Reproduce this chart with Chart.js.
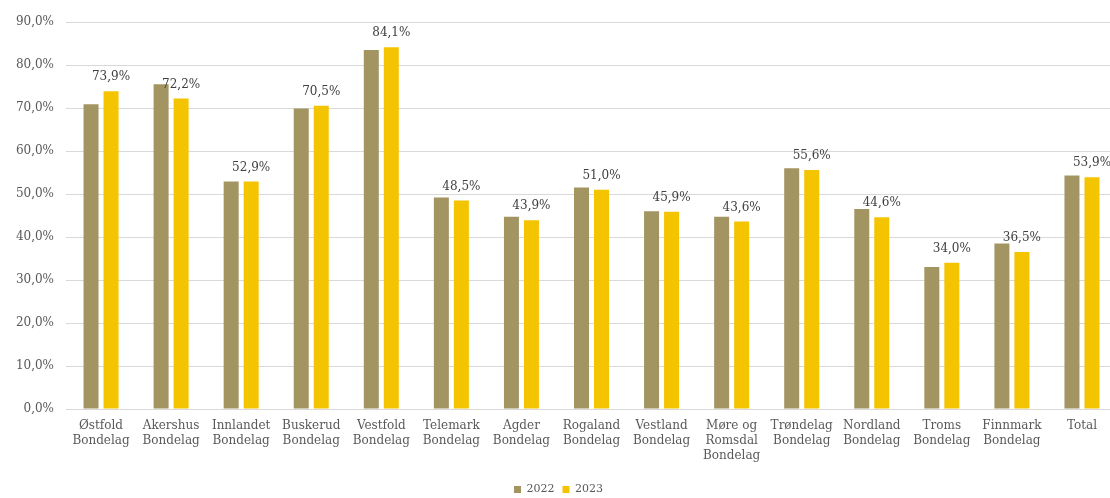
<!DOCTYPE html>
<html>
<head>
<meta charset="utf-8">
<script src="https://cdn.jsdelivr.net/npm/chart.js@4.4.1/dist/chart.umd.min.js"></script>
<style>
  html, body { margin: 0; padding: 0; background: #fff; overflow: hidden; }
  #wrap { width: 1142px; height: 498px; position: relative; }
</style>
</head>
<body>
<div id="wrap"><canvas id="grafico"></canvas></div>
<script>
// Kategorier (fylkeslag)
const kategorier = [
  ['Østfold', 'Bondelag'], ['Akershus', 'Bondelag'], ['Innlandet', 'Bondelag'],
  ['Buskerud', 'Bondelag'], ['Vestfold', 'Bondelag'], ['Telemark', 'Bondelag'],
  ['Agder', 'Bondelag'], ['Rogaland', 'Bondelag'], ['Vestland', 'Bondelag'],
  ['Møre og', 'Romsdal', 'Bondelag'], ['Trøndelag', 'Bondelag'], ['Nordland', 'Bondelag'],
  ['Troms', 'Bondelag'], ['Finnmark', 'Bondelag'], ['Total']
];

// Verdier (prosent)
const verdier2022 = [70.9, 75.5, 52.9, 69.9, 83.5, 49.2, 44.7, 51.5, 46.0, 44.7, 56.0, 46.5, 33.0, 38.5, 54.3];
const verdier2023 = [73.9, 72.2, 52.9, 70.5, 84.1, 48.5, 43.9, 51.0, 45.9, 43.6, 55.6, 44.6, 34.0, 36.5, 53.9];

const fargeTekst = '#595959';
const skrift = 'DejaVu Serif';

function fmt(v, d) {
  return v.toFixed(d).replace('.', ',') + '%';
}

// Etiketter over 2023-søylene
const etikettPlugin = {
  id: 'etiketter',
  afterDatasetsDraw(chart) {
    const ctx = chart.ctx;
    const meta = chart.getDatasetMeta(1);
    ctx.save();
    ctx.font = '12px "' + skrift + '"';
    ctx.fillStyle = '#404040';
    ctx.textAlign = 'center';
    ctx.textBaseline = 'bottom';
    meta.data.forEach((bar, i) => {
      ctx.fillText(fmt(verdier2023[i], 1), bar.x, bar.y - 8);
    });
    ctx.restore();
  }
};

new Chart(document.getElementById('grafico'), {
  type: 'bar',
  data: {
    labels: kategorier,
    datasets: [
      { label: '2022', data: verdier2022, backgroundColor: '#a39562', categoryPercentage: 0.571, barPercentage: 0.75 },
      { label: '2023', data: verdier2023, backgroundColor: '#f5c400', categoryPercentage: 0.571, barPercentage: 0.75 }
    ]
  },
  options: {
    responsive: true,
    maintainAspectRatio: false,
    animation: false,
    layout: { padding: { top: 22, right: 25, left: 0, bottom: -7 } },
    plugins: {
      tooltip: { enabled: false },
      legend: {
        position: 'bottom',
        labels: {
          boxWidth: 7, boxHeight: 7, padding: 8,
          color: fargeTekst,
          font: { family: skrift, size: 11 }
        }
      }
    },
    scales: {
      x: {
        grid: { display: false },
        border: { color: '#d9d9d9' },
        ticks: {
          color: fargeTekst, maxRotation: 0, autoSkip: false, padding: 1,
          font: { family: skrift, size: 12, lineHeight: 1.25 }
        },
        afterFit(scale) { scale.height = 67; }
      },
      y: {
        min: 0, max: 90,
        border: { display: false },
        grid: { color: '#d9d9d9', drawTicks: false },
        ticks: {
          stepSize: 10, padding: 12, color: fargeTekst,
          font: { family: skrift, size: 12 },
          callback: v => fmt(v, 1)
        },
        afterFit(scale) { scale.width = 66; }
      }
    }
  },
  plugins: [etikettPlugin]
});
</script>
</body>
</html>
